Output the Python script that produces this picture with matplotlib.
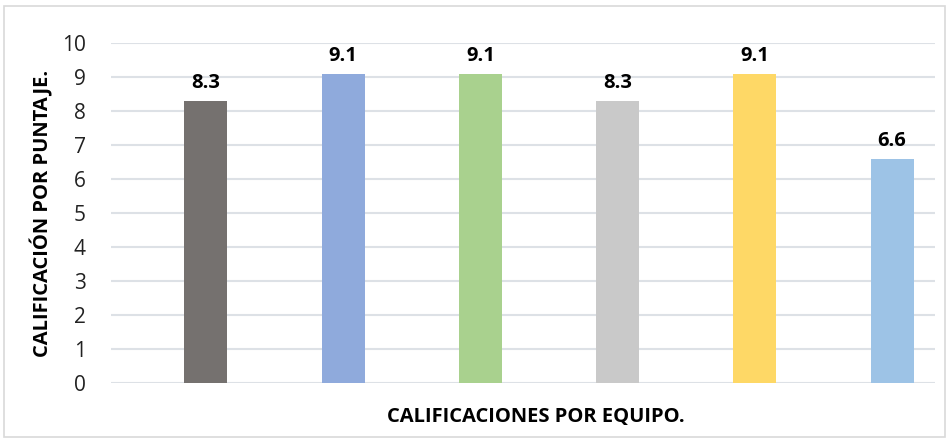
import numpy as np
import matplotlib.pyplot as plt
from matplotlib.patches import Rectangle

# data
equipos = ["Equipo 1", "Equipo 2", "Equipo 3", "Equipo 4", "Equipo 5", "Equipo 6"]
calificaciones = [8.3, 9.1, 9.1, 8.3, 9.1, 6.6]
colores = ["#75716F", "#8FAADC", "#A9D18E", "#C9C9C9", "#FED866", "#9DC3E6"]

plt.rcParams["font.family"] = ["Open Sans", "DejaVu Sans"]

fig = plt.figure(figsize=(9.49, 4.4), dpi=100)
ax = fig.add_axes([111 / 949, 57 / 440, 824 / 949, 340 / 440])

x = np.arange(len(equipos))
bars = ax.bar(x, calificaciones, width=0.313, color=colores, zorder=3)

for b, v in zip(bars, calificaciones):
    ax.text(b.get_x() + b.get_width() / 2, v + 0.22, f"{v:.1f}",
            ha="center", va="bottom", fontsize=14.5, fontweight="bold")

ax.set_xlim(-0.692, 5.313)
ax.set_ylim(0, 10)
ax.set_yticks(range(0, 11))
ax.set_xticks([])
ax.tick_params(axis="y", length=0, labelsize=15, pad=18, colors="#222222")
ax.grid(axis="y", color="#DDE1E6", linewidth=1.5, zorder=0)
for s in ax.spines.values():
    s.set_visible(False)

ax.set_ylabel("CALIFICACIÓN POR PUNTAJE.", fontsize=14.5, fontweight="bold", labelpad=6)
fig.text(536 / 949, 23 / 440, "CALIFICACIONES POR EQUIPO.", ha="center", va="center",
         fontsize=14.5, fontweight="bold")

# light border around the whole chart
fig.patches.append(Rectangle((4 / 949, 3 / 440), 941 / 949, 431 / 440,
                             transform=fig.transFigure, fill=False,
                             edgecolor="#D9D9D9", linewidth=1.2))

fig.savefig("out.png", dpi=100)
